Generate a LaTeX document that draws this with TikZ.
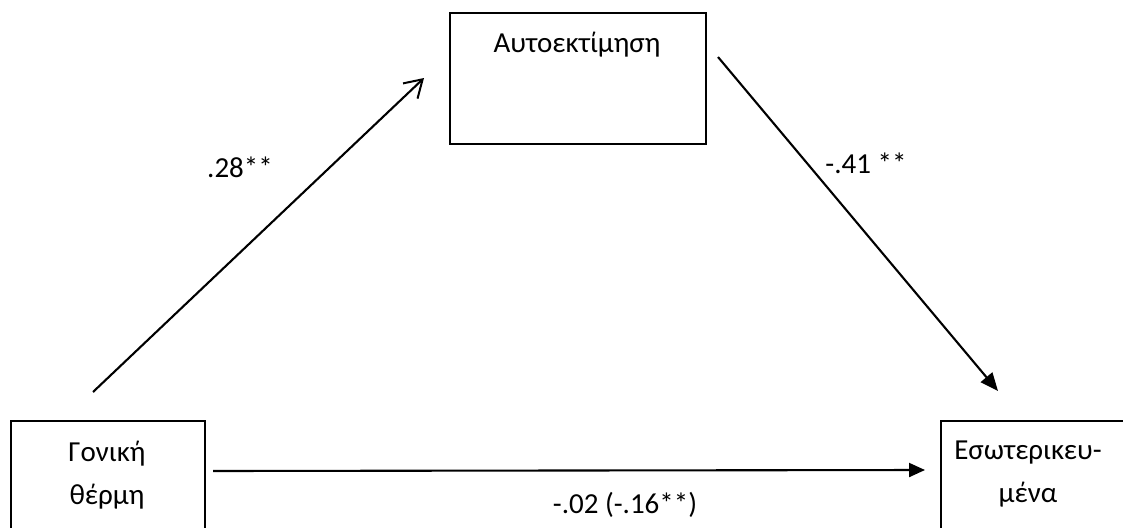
\documentclass[tikz,border=0pt]{standalone}
\usepackage{fontspec}
\setmainfont{Carlito}
\usetikzlibrary{arrows.meta}
\begin{document}
\begin{tikzpicture}[x=1pt,y=-1pt,
  box/.style={draw,line width=1.8pt,inner sep=0pt,anchor=north west},
  lbl/.style={font=\fontsize{29}{43}\selectfont,inner sep=0pt,align=center},
  conn/.style={line width=2.1pt}]
\useasboundingbox (0,0) rectangle (1123,527);
\fill[white] (0,0) rectangle (1123,527);
% boxes
\node[box,minimum width=256pt,minimum height=131pt] (aut) at (449,12) {};
\node[box,minimum width=194pt,minimum height=140pt] (gon) at (10,420) {};
\node[box,minimum width=200pt,minimum height=140pt] (eso) at (940,420) {};
% box texts
\node[lbl] (autt) at (577,45) {Αυτοεκτίμηση};
\node[lbl] (gont) at (107,475) {Γονική\\θέρμη};
\node[lbl] (esot) at (1028,474) {Εσωτερικευ-\\μένα};
% connector ends
\coordinate (a1) at (93,392);
\coordinate (a2) at (424,78);
\coordinate (b1) at (718,57);
\coordinate (b2) at (998,391);
\coordinate (c1) at (213,471);
\coordinate (c2) at (925,470);
\draw[conn,-{Straight Barb[length=17pt,width=21pt,line width=2pt]}] (a1) -- (a2);
\draw[conn,-{Triangle[length=18pt,width=15pt]}] (b1) -- (b2);
\draw[conn,-{Triangle[length=16pt,width=14pt]}] (c1) -- (c2);
% labels
\node[lbl] (l1) at (240,167) {.28**};
\node[lbl] (l2) at (866,163) {-.41 **};
\node[lbl] (l3) at (625,505) {-.02 (-.16**)};
\end{tikzpicture}
\end{document}
